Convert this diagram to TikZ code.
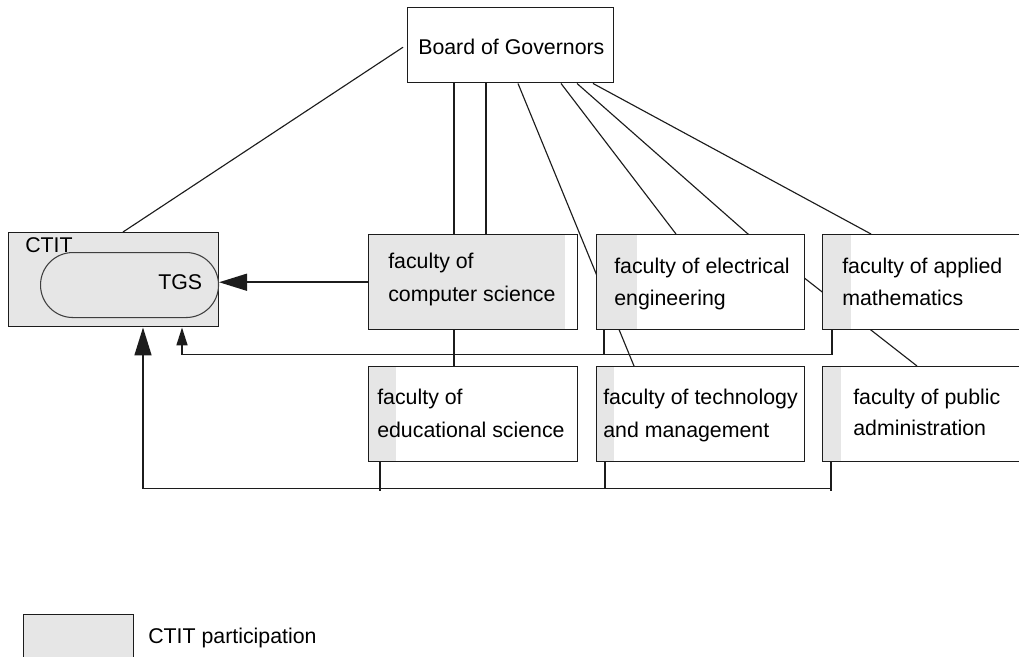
\documentclass[tikz,border=0pt]{standalone}
\usepackage{fontspec}
\setmainfont{Liberation Sans}
\usetikzlibrary{arrows.meta,calc}
\definecolor{partfill}{RGB}{230,230,230}
\definecolor{ink}{RGB}{28,28,28}
\pgfdeclarelayer{bg}
\pgfsetlayers{bg,main}
\begin{document}
\begin{tikzpicture}[x=0.75pt,y=-0.75pt,
  box/.style={draw=ink, line width=1.1pt, fill=white, inner sep=0pt, anchor=north west},
  fac/.style={box, minimum width=156.75pt, minimum height=71.25pt},
  strip/.style={path picture={\fill[partfill] (path picture bounding box.north west) rectangle ([xshift=#1]path picture bounding box.south west);}},
  txt/.style={anchor=base west, inner sep=0pt, font=\fontsize{16}{19}\selectfont, text=black},
  diag/.style={draw=ink, line width=0.85pt},
  link/.style={draw=ink, line width=1.2pt},
  bighead/.style={-{Triangle[length=21pt,width=12.75pt]}},
  smallhead/.style={-{Triangle[length=13.5pt,width=8.25pt]}}
]
\useasboundingbox (0,0) rectangle (1019,656);
\clip (0,0) rectangle (1019,656);

% boxes
\node[box, minimum width=154.5pt, minimum height=56.25pt] (board) at (407,7) {};
\node[box, fill=partfill, minimum width=157.5pt, minimum height=70.5pt] (ctit) at (8,232) {};
\node[anchor=north west, draw=ink!85, line width=0.8pt, fill=partfill, rounded corners=24.3pt,
      minimum width=133.5pt, minimum height=48.75pt, inner sep=0pt] (tgs) at (40,252) {};

\node[fac, strip=147pt] (cs)   at (368,234) {};
\node[fac, strip=30pt, minimum width=156pt]  (elec) at (596,234) {};
\node[fac, strip=21pt] (app)  at (822,234) {};
\node[fac, strip=20.25pt] (ed) at (368,366) {};
\node[fac, strip=12.75pt, minimum width=156pt] (tech) at (596,366) {};
\node[fac, strip=13.5pt] (pub) at (822,366) {};

\node[box, fill=partfill, minimum width=82.5pt, minimum height=42pt] (legend) at (23,614) {};

% texts
\node[txt] (board-t) at ($(board.north west)+(11,48)$) {Board of Governors};
\node[txt] (ctit-t) at ($(ctit.north west)+(17,20)$) {CTIT};
\node[txt] (tgs-t) at ($(tgs.north west)+(118,37)$) {TGS};
\node[txt] (cs-t1) at ($(cs.north west)+(20,34)$) {faculty of};
\node[txt] (cs-t2) at ($(cs.north west)+(20,67)$) {computer science};
\node[txt] (elec-t1) at ($(elec.north west)+(18,39)$) {faculty of electrical};
\node[txt] (elec-t2) at ($(elec.north west)+(18,71)$) {engineering};
\node[txt] (app-t1) at ($(app.north west)+(20,39)$) {faculty of applied};
\node[txt] (app-t2) at ($(app.north west)+(20,71)$) {mathematics};
\node[txt] (ed-t1) at ($(ed.north west)+(9,38)$) {faculty of};
\node[txt] (ed-t2) at ($(ed.north west)+(9,71)$) {educational science};
\node[txt] (tech-t1) at ($(tech.north west)+(7,38)$) {faculty of technology};
\node[txt] (tech-t2) at ($(tech.north west)+(7,71)$) {and management};
\node[txt] (pub-t1) at ($(pub.north west)+(31,38)$) {faculty of public};
\node[txt] (pub-t2) at ($(pub.north west)+(31,69)$) {administration};
\node[txt] (legend-t) at (148,643) {CTIT participation};

% connectors, kept behind the boxes
\begin{pgfonlayer}{bg}
  \draw[diag] ($(ctit.north west)+(115,0)$) -- ($(board.west)+(-4,2)$);
  \draw[diag] ($(board.south west)+(111,0)$) -- ($(tech.north west)+(38,0)$);
  \draw[diag] ($(board.south west)+(154,0)$) -- ($(elec.north west)+(80,0)$);
  \draw[diag] ($(board.south west)+(170,0)$) -- ($(elec.north west)+(152,0)$) -- ($(pub.north west)+(95,0)$);
  \draw[diag] ($(board.south west)+(186,0)$) -- ($(app.north west)+(49,0)$);

  \draw[link] ($(board.south west)+(47,0)$) -- ($(cs.north west)+(86,0)$);
  \draw[link] ($(board.south west)+(79,0)$) -- ($(cs.north west)+(118,0)$);
  \draw[link] ($(cs.south west)+(86,0)$) -- ($(ed.north west)+(86,0)$);

  \draw[link, bighead] (cs.west) -- (cs.west -| tgs.east);

  \draw[link] ($(elec.south west)+(8,0)$) -- ++(0,24);
  \draw[link, smallhead] ($(app.south west)+(10,0)$) -- ++(0,24) -| ($(ctit.south west)+(174,0)$);

  \draw[link] ($(ed.south west)+(12,0)$) -- ++(0,29);
  \draw[link] ($(tech.south west)+(9,0)$) -- ++(0,26);
  \draw[link] ($(pub.south west)+(9,0)$) -- ++(0,29);
  \draw[link, bighead] ($(pub.south west)+(9,0)$) -- ++(0,26) -| ($(ctit.south west)+(135,0)$);
\end{pgfonlayer}
\end{tikzpicture}
\end{document}
